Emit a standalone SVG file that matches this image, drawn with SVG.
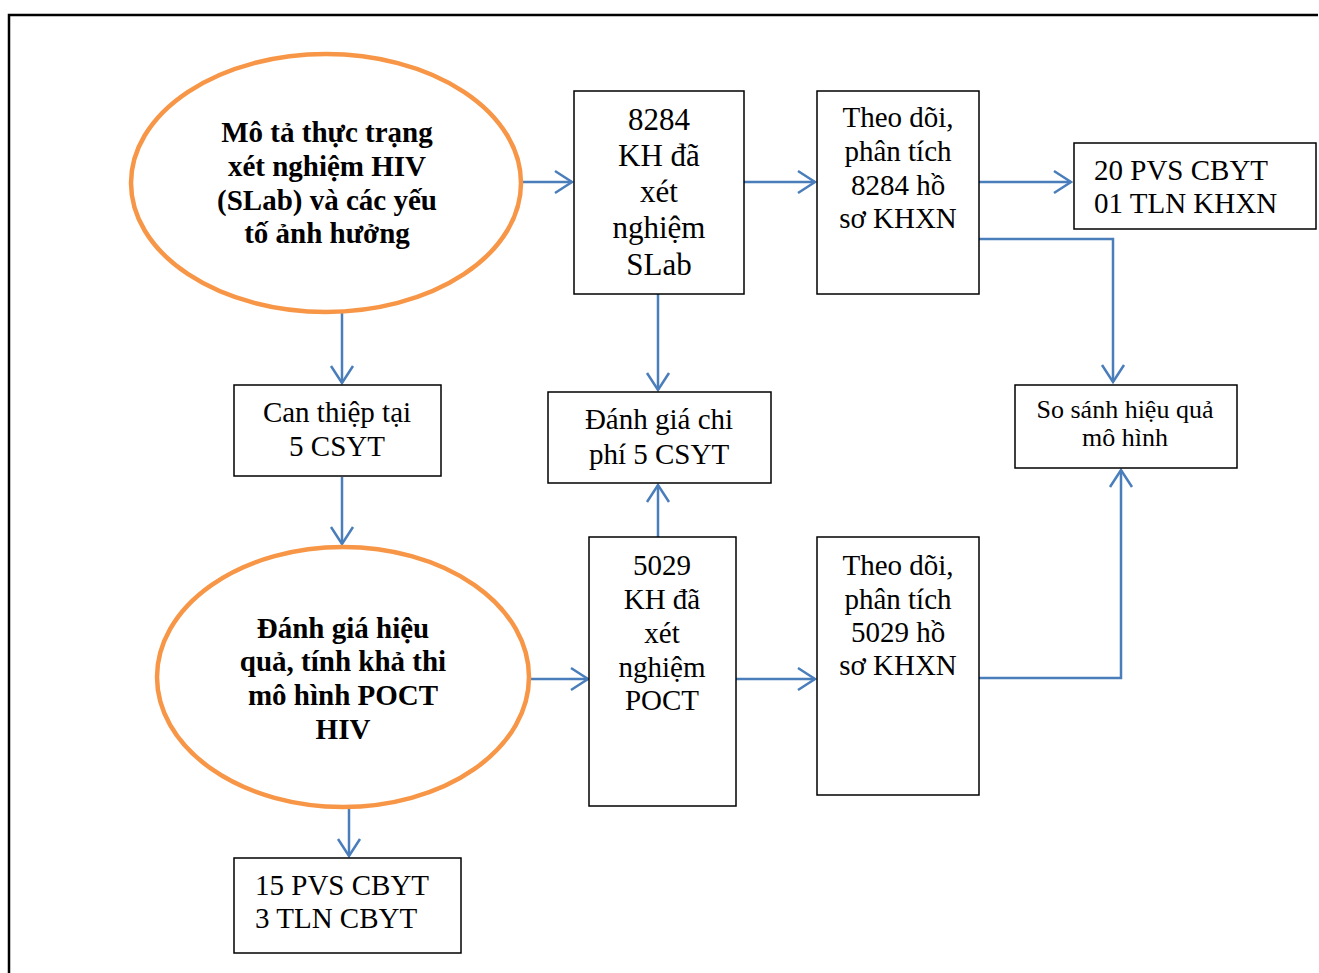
<svg xmlns="http://www.w3.org/2000/svg" width="1319" height="973" viewBox="0 0 1319 973">
  <style>
    .frame { fill: none; stroke: #000; stroke-width: 2.5; }
    .oval { fill: #fff; stroke: #F79646; stroke-width: 4.5; }
    .box { fill: #fff; stroke: #000; stroke-width: 1.5; }
    .bold { font-family: "Liberation Serif", "Times New Roman", serif; font-weight: bold; font-size: 29px; fill: #000; text-anchor: middle; }
    .txt { font-family: "Liberation Serif", "Times New Roman", serif; font-size: 29px; fill: #000; text-anchor: middle; }
    .big { font-size: 31px; }
    .small { font-size: 26px; }
    .left { text-anchor: start; }
    .link { fill: none; stroke: #4A7EBB; stroke-width: 2.5; marker-end: url(#head); }
  </style>
  <defs>
    <marker id="head" markerUnits="userSpaceOnUse" markerWidth="22" markerHeight="26" refX="18" refY="12" orient="auto" overflow="visible">
      <path d="M1,1 L18,12 L1,23" fill="none" stroke="#4A7EBB" stroke-width="2.5"/>
    </marker>
  </defs>

  <rect width="1319" height="973" fill="#fff"/>
  <!-- page frame: left and top edges only -->
  <path class="frame" d="M9,985 V15 H1318"/>

  <g id="connectors">
    <path class="link" d="M522,182 H572"/>
    <path class="link" d="M744,182 H815"/>
    <path class="link" d="M979,182 H1071"/>
    <path class="link" d="M979,239 H1113 V382"/>
    <path class="link" d="M342,313 V383"/>
    <path class="link" d="M342,477 V544"/>
    <path class="link" d="M658,294 V390"/>
    <path class="link" d="M658,537 V485"/>
    <path class="link" d="M529,679 H588"/>
    <path class="link" d="M736,679 H815"/>
    <path class="link" d="M979,678 H1121 V470"/>
    <path class="link" d="M349,808 V856"/>
  </g>

  <g id="goal-slab">
    <ellipse class="oval" cx="326" cy="183" rx="195" ry="129"/>
    <text class="bold" x="327" y="142">Mô tả thực trạng</text>
    <text class="bold" x="327" y="176">xét nghiệm HIV</text>
    <text class="bold" x="327" y="210">(SLab) và các yếu</text>
    <text class="bold" x="327" y="243">tố ảnh hưởng</text>
  </g>

  <g id="slab-clients">
    <rect class="box" x="574" y="91" width="170" height="203"/>
    <text class="txt big" x="659" y="130">8284</text>
    <text class="txt big" x="659" y="166">KH đã</text>
    <text class="txt big" x="659" y="202">xét</text>
    <text class="txt big" x="659" y="238">nghiệm</text>
    <text class="txt big" x="659" y="275">SLab</text>
  </g>

  <g id="slab-records">
    <rect class="box" x="817" y="91" width="162" height="203"/>
    <text class="txt" x="898" y="127">Theo dõi,</text>
    <text class="txt" x="898" y="161">phân tích</text>
    <text class="txt" x="898" y="195">8284 hồ</text>
    <text class="txt" x="898" y="228">sơ KHXN</text>
  </g>

  <g id="slab-interviews">
    <rect class="box" x="1074" y="143" width="242" height="86"/>
    <text class="txt left" x="1094" y="180">20 PVS CBYT</text>
    <text class="txt left" x="1094" y="213">01 TLN KHXN</text>
  </g>

  <g id="compare">
    <rect class="box" x="1015" y="385" width="222" height="83"/>
    <text class="txt small" x="1125" y="418">So sánh hiệu quả</text>
    <text class="txt small" x="1125" y="446">mô hình</text>
  </g>

  <g id="intervention">
    <rect class="box" x="234" y="385" width="207" height="91"/>
    <text class="txt" x="337" y="422">Can thiệp tại</text>
    <text class="txt" x="337" y="456">5 CSYT</text>
  </g>

  <g id="cost">
    <rect class="box" x="548" y="392" width="223" height="91"/>
    <text class="txt" x="659" y="429">Đánh giá chi</text>
    <text class="txt" x="659" y="464">phí 5 CSYT</text>
  </g>

  <g id="goal-poct">
    <ellipse class="oval" cx="343" cy="677" rx="186" ry="130"/>
    <text class="bold" x="343" y="638">Đánh giá hiệu</text>
    <text class="bold" x="343" y="671">quả, tính khả thi</text>
    <text class="bold" x="343" y="705">mô hình POCT</text>
    <text class="bold" x="343" y="739">HIV</text>
  </g>

  <g id="poct-clients">
    <rect class="box" x="589" y="537" width="147" height="269"/>
    <text class="txt" x="662" y="575">5029</text>
    <text class="txt" x="662" y="609">KH đã</text>
    <text class="txt" x="662" y="643">xét</text>
    <text class="txt" x="662" y="677">nghiệm</text>
    <text class="txt" x="662" y="710">POCT</text>
  </g>

  <g id="poct-records">
    <rect class="box" x="817" y="537" width="162" height="258"/>
    <text class="txt" x="898" y="575">Theo dõi,</text>
    <text class="txt" x="898" y="609">phân tích</text>
    <text class="txt" x="898" y="642">5029 hồ</text>
    <text class="txt" x="898" y="675">sơ KHXN</text>
  </g>

  <g id="poct-interviews">
    <rect class="box" x="234" y="858" width="227" height="95"/>
    <text class="txt left" x="255" y="895">15 PVS CBYT</text>
    <text class="txt left" x="255" y="928">3 TLN CBYT</text>
  </g>
</svg>
